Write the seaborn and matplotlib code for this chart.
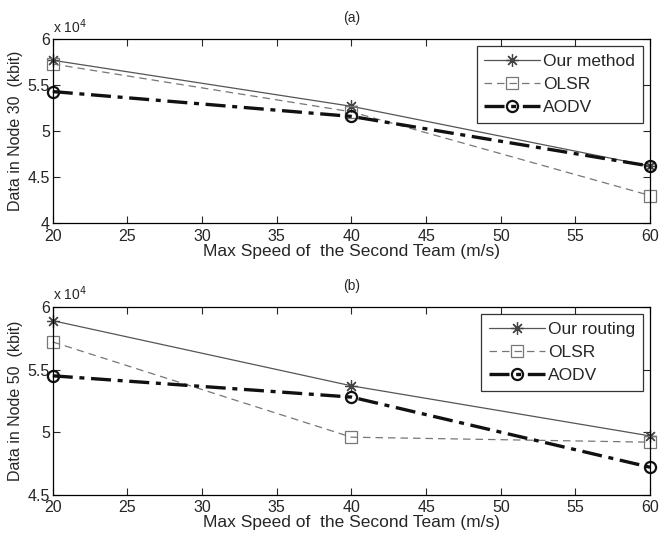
import numpy as np
import pandas as pd
import seaborn as sns
from matplotlib import pyplot as plt
from matplotlib.ticker import FuncFormatter

sns.set_theme(style="ticks")
plt.rcParams["font.family"] = ["Liberation Sans", "DejaVu Sans"]
plt.rcParams["xtick.direction"] = "in"
plt.rcParams["ytick.direction"] = "in"

speed = [20, 40, 60]

# panel (a): data in node 30 (kbit)
ours_a = [57700, 52700, 46200]
olsr_a = [57300, 52100, 43000]
aodv_a = [54300, 51600, 46200]

# panel (b): data in node 50 (kbit)
ours_b = [58900, 53700, 49700]
olsr_b = [57200, 49600, 49200]
aodv_b = [54500, 52800, 47200]

styles = [
    dict(color="#555555", linestyle="-", linewidth=0.9, marker=(8, 2, 0), markersize=9,
         markeredgecolor="#444444", markeredgewidth=0.9),
    dict(color="#777777", linestyle=(0, (6, 4)), linewidth=0.9, marker="s", markersize=9,
         markerfacecolor="none", markeredgecolor="#777777", markeredgewidth=0.9),
    dict(color="#111111", linestyle=(0, (6, 2, 1.5, 2)), linewidth=2.4, marker="o", markersize=8,
         markerfacecolor="none", markeredgecolor="#111111", markeredgewidth=1.6),
]

fig = plt.figure(figsize=(6.6, 5.51), dpi=100)
ax_a = fig.add_axes([0.080, 0.595, 0.905, 0.334])
ax_b = fig.add_axes([0.080, 0.102, 0.905, 0.341])


def draw_panel(ax, series, names, ylim, yticks, ylabel, title):
    for vals, name, st in zip(series, names, styles):
        df = pd.DataFrame({"speed": speed, "data": vals})
        sns.lineplot(data=df, x="speed", y="data", ax=ax, label=name, clip_on=False, **st)
    ax.set_xlim(20, 60)
    ax.set_ylim(*ylim)
    ax.set_xticks(np.arange(20, 61, 5))
    ax.set_yticks(yticks)
    ax.yaxis.set_major_formatter(FuncFormatter(lambda v, p: f"{v / 1e4:g}"))
    ax.tick_params(top=True, right=True, length=5, width=0.8, labelsize=11.5, pad=2)
    ax.tick_params(axis="x", pad=4)
    for s in ax.spines.values():
        s.set_linewidth(0.9)
        s.set_color("black")
    ax.set_xlabel("Max Speed of  the Second Team (m/s)", fontsize=12.5, labelpad=0)
    ax.set_ylabel(ylabel, fontsize=11.5, labelpad=3)
    ax.set_title(title, fontsize=10, pad=12)
    ax.text(0.0, 1.035, r"x 10$^4$", transform=ax.transAxes, fontsize=10)
    leg = ax.legend(loc="upper right", fontsize=12.5, frameon=True, fancybox=False,
                    edgecolor="black", handlelength=3.2, borderaxespad=0.4,
                    handletextpad=0.2, labelspacing=0.45, borderpad=0.45)
    leg.get_frame().set_linewidth(0.9)


draw_panel(ax_a, [ours_a, olsr_a, aodv_a], ["Our method", "OLSR", "AODV"],
           (40000, 60000), [40000, 45000, 50000, 55000, 60000],
           "Data in Node 30  (kbit)", "(a)")
draw_panel(ax_b, [ours_b, olsr_b, aodv_b], ["Our routing", "OLSR", "AODV"],
           (45000, 60000), [45000, 50000, 55000, 60000],
           "Data in Node 50  (kbit)", "(b)")

fig.savefig("out.png", dpi=100, facecolor="white")
